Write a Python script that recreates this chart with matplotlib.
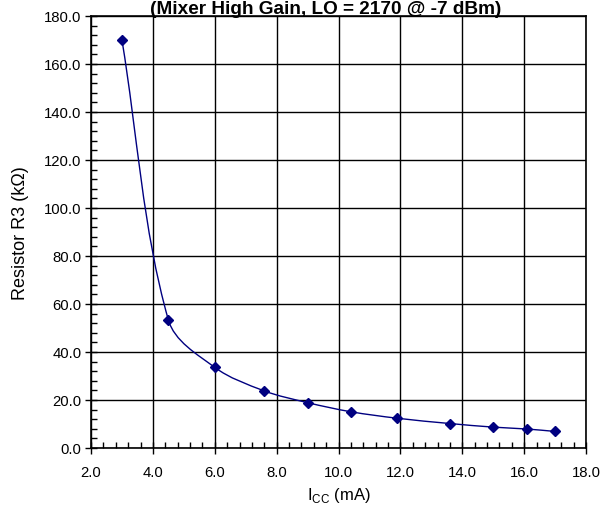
import numpy as np
import matplotlib
matplotlib.use("Agg")
import matplotlib.pyplot as plt
from matplotlib.ticker import MultipleLocator, FormatStrFormatter
from matplotlib.path import Path
from matplotlib.patches import PathPatch

plt.rcParams['font.family'] = ['Liberation Sans', 'DejaVu Sans']

icc_ma = [3.0, 4.5, 6.0, 7.6, 9.0, 10.4, 11.9, 13.6, 15.0, 16.1, 17.0]
r3_kohm = [170.0, 53.4, 33.6, 23.8, 18.9, 15.1, 12.4, 10.2, 8.7, 7.9, 6.9]

title = "(Mixer High Gain, LO = 2170 @ -7 dBm)"

fig = plt.figure(figsize=(6.08, 5.06), dpi=100)
ax = fig.add_axes([91/608, 1-449/506, 495/608, 432/506])
ax.set_xlim(2, 18)
ax.set_ylim(0, 180)

# Smoothed line (Excel-like): Bezier segments, control points along the
# Catmull-Rom tangent direction at one third of the segment's chord length.
pts = ax.transData.transform(np.column_stack([icc_ma, r3_kohm]))
n = len(pts)
dirs = []
for i in range(n):
    if i == 0:
        d = pts[1] - pts[0]
    elif i == n - 1:
        d = pts[-1] - pts[-2]
    else:
        d = pts[i+1] - pts[i-1]
    dirs.append(d / np.linalg.norm(d))
verts = [tuple(pts[0])]
codes = [Path.MOVETO]
for i in range(n - 1):
    chord = np.linalg.norm(pts[i+1] - pts[i])
    c1 = pts[i] + dirs[i] * chord / 3
    c2 = pts[i+1] - dirs[i+1] * chord / 3
    verts += [tuple(c1), tuple(c2), tuple(pts[i+1])]
    codes += [Path.CURVE4] * 3
verts = ax.transData.inverted().transform(np.array(verts))
ax.add_patch(PathPatch(Path(verts, codes), facecolor='none', edgecolor='#000080', lw=1.0, zorder=3))
ax.plot(icc_ma, r3_kohm, linestyle='none', marker='D', color='#000080', markersize=5, zorder=4)

ax.xaxis.set_major_locator(MultipleLocator(2))
ax.xaxis.set_minor_locator(MultipleLocator(0.4))
ax.yaxis.set_major_locator(MultipleLocator(20))
ax.yaxis.set_minor_locator(MultipleLocator(4))
ax.xaxis.set_major_formatter(FormatStrFormatter('%.1f'))
ax.yaxis.set_major_formatter(FormatStrFormatter('%.1f'))
ax.tick_params(which='major', direction='inout', length=8, width=1, labelsize=10.7, colors='black')
ax.tick_params(axis='y', which='major', pad=3)
ax.tick_params(axis='x', which='major', pad=8)
ax.tick_params(which='minor', direction='in', length=4, width=1)
ax.grid(which='major', color='black', linewidth=1.0)
for s in ax.spines.values():
    s.set_linewidth(1.2)
    s.set_color('black')

ax.set_xlabel(r"I$_{\mathregular{CC}}$ (mA)", fontsize=12, va='center')
ax.set_ylabel("Resistor R3 (kΩ)", fontsize=13, va='center')
ax.xaxis.set_label_coords(0.5, (449-496)/432)
ax.yaxis.set_label_coords((21-91)/495, 0.5)
fig.text(326/608, 1 - 13.5/506, title, ha='center', va='baseline', fontsize=13.7, fontweight='bold')

fig.savefig("out.png", dpi=100)
